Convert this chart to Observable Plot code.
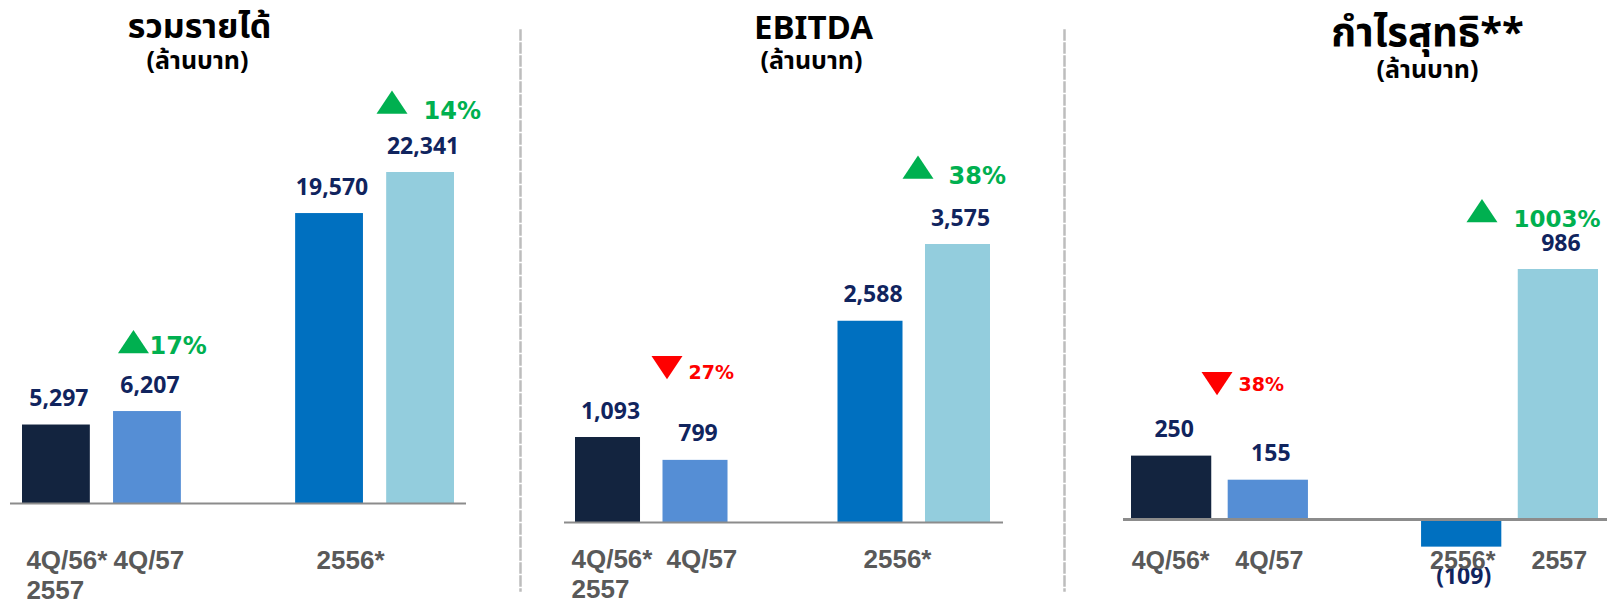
<!DOCTYPE html>
<html>
<head>
<meta charset="utf-8">
<script src="https://cdn.jsdelivr.net/npm/d3@7"></script>
<script src="https://cdn.jsdelivr.net/npm/@observablehq/plot@0.6"></script>
<style>
  html, body { margin: 0; padding: 0; background: #ffffff; }
  #chart { position: relative; width: 1607px; height: 600px; overflow: hidden; background: #ffffff; }
  #chart svg { position: absolute; top: 0; }
</style>
</head>
<body>
<div id="chart"></div>
<script>
// ---------------- DATA ----------------
const categories = ["4Q/56*", "4Q/57", "2556*", "2557"];
const revenueValues = [5297, 6207, 19570, 22341];
const ebitdaValues = [1093, 799, 2588, 3575];
const netProfitValues = [250, 155, -109, 986];
const panelTitles = ["รวมรายได้", "EBITDA", "กำไรสุทธิ**"];
const unitLabel = "(ล้านบาท)";
const changePairs = [["4Q/56*", "4Q/57"], ["2556*", "2557"]];
const revenueChange = ["17%", "14%"];
const ebitdaChange = ["27%", "38%"];
const netProfitChange = ["38%", "1003%"];

// ---------------- STYLE / LAYOUT ----------------
const barColors = ["#13243f", "#558ed5", "#0070c0", "#93cddd"];
const valueColor = "#10245e";
const upColor = "#00b050";
const downColor = "#ff0000";
const catColor = "#595959";
const GAP = "\u00a0gap";
const numFont = "'Noto Sans', 'DejaVu Sans', sans-serif";
const pctFont = "'DejaVu Sans', 'Noto Sans', sans-serif";
const catFont = "'Liberation Sans', Arial, sans-serif";
const titleFont = "'Noto Sans Thai', 'Noto Sans', 'DejaVu Sans', sans-serif";

const fmt = d3.format(",");
const fmtValue = v => v < 0 ? `(${fmt(-v)})` : fmt(v);

const flatTriangle = {
  draw(ctx, size) {
    const r = Math.sqrt(size / Math.PI);
    const h = r * 0.75;
    ctx.moveTo(0, -h);
    ctx.lineTo(r, h);
    ctx.lineTo(-r, h);
    ctx.closePath();
  }
};

const panels = [
  {
    left: 0, width: 519, values: revenueValues, change: revenueChange, title: panelTitles[0],
    xRange: [22, 454], pad: 0.255, yRange: [503, 172],
    baseL: 10, baseR: 466, baseW: 2, separator: false,
    titleX: 199, titleY: 37, titleSize: 34, subX: 197, subY: 68, subSize: 25,
    wrap: true, catDx: [-30, -34, -13, -30], catDy: 65, catSize: 26,
    triDx: [-14, -28.6], triDy: [-70, -70.5], pctDx: [2, 3], pctDy: [-58, -54], pctSize: [24, 24]
  },
  {
    left: 519, width: 544, values: ebitdaValues, change: ebitdaChange, title: panelTitles[1],
    xRange: [56, 471], pad: 0.257, yRange: [522, 244],
    baseL: 45, baseR: 484, baseW: 2, separator: true,
    titleX: 294, titleY: 38, titleSize: 33, subX: 292, subY: 68, subSize: 25,
    wrap: true, catDx: [-36.5, -29, -7, -36.5], catDy: 45, catSize: 26,
    triDx: [-28.5, -40], triDy: [-70, -77.5], pctDx: [-7, -9.5], pctDy: [-59, -61], pctSize: [19, 24]
  },
  {
    left: 1063, width: 544, values: netProfitValues, change: netProfitChange, title: panelTitles[2],
    xRange: [68, 535], pad: 0.17, yRange: [519, 269],
    baseL: 60, baseR: 544, baseW: 3, separator: true,
    titleX: 364, titleY: 45, titleSize: 40, subX: 364, subY: 77, subSize: 25,
    wrap: false, catDx: [-1, 1, 1, 1], catDy: 49, catSize: 25,
    triDx: [-51.3, -76.4], triDy: [-72.6, -59], pctDx: [-29.8, -44.9], pctDy: [-65.6, -43], pctSize: [19, 23]
  }
];

const chart = document.getElementById("chart");

panels.forEach((p) => {
  const rows = categories.map((c, i) => ({category: c, value: p.values[i]}));
  const valueOf = c => p.values[categories.indexOf(c)];
  const annotations = changePairs.map(([a, b], i) => ({
    from: a, to: b, label: p.change[i],
    up: valueOf(b) >= valueOf(a),
    top: Math.max(valueOf(a), valueOf(b))
  }));
  const marginLeft = 1, marginTop = 30;

  const marks = [];
  if (p.separator) {
    marks.push(Plot.frame({anchor: "left", stroke: "#bdbdbd", strokeWidth: 2.5, strokeDasharray: "9,4"}));
  }
  // titles
  marks.push(Plot.text([p.title], {
    frameAnchor: "top-left", dx: p.titleX - marginLeft, dy: p.titleY - marginTop,
    text: d => d, textAnchor: "middle", lineAnchor: "bottom",
    fontSize: p.titleSize, fontWeight: "bold", fontFamily: titleFont, fill: "#000000"
  }));
  marks.push(Plot.text([unitLabel], {
    frameAnchor: "top-left", dx: p.subX - marginLeft, dy: p.subY - marginTop,
    text: d => d, textAnchor: "middle", lineAnchor: "bottom",
    fontSize: p.subSize, fontWeight: "bold", fontFamily: titleFont, fill: "#000000"
  }));
  // bars
  marks.push(Plot.barY(rows, {x: "category", y: "value", fill: "category"}));
  // baseline
  marks.push(Plot.ruleY([0], {
    stroke: "#8c8c8c", strokeWidth: p.baseW,
    insetLeft: p.baseL - marginLeft, insetRight: p.width - p.baseR
  }));
  // value labels
  marks.push(Plot.text(rows.filter(d => d.value >= 0), {
    x: "category", y: "value", text: d => fmtValue(d.value), dx: 2.5, dy: -19,
    textAnchor: "middle", lineAnchor: "bottom",
    fontSize: 23, fontWeight: "bold", fontFamily: numFont, fill: valueColor
  }));
  marks.push(Plot.text(rows.filter(d => d.value < 0), {
    x: "category", y: "value", text: d => fmtValue(d.value), dx: 2, dy: 36.4,
    textAnchor: "middle", lineAnchor: "bottom",
    fontSize: 23, fontWeight: "bold", fontFamily: numFont, fill: valueColor
  }));
  // category labels
  categories.forEach((c, i) => {
    const wrapped = p.wrap && i === 3;
    marks.push(Plot.text([c], {
      x: () => wrapped ? categories[0] : c, y: () => 0, text: d => d,
      dx: p.catDx[i], dy: p.catDy + (wrapped ? 30 : 0),
      textAnchor: p.wrap ? "start" : "middle", lineAnchor: "bottom",
      fontSize: p.catSize, fontWeight: "bold", fontFamily: catFont, fill: catColor
    }));
  });
  // change annotations
  annotations.forEach((a, i) => {
    marks.push(Plot.dot([a], {
      x: "to", y: "top", symbol: flatTriangle, r: 15.5,
      fill: a.up ? upColor : downColor, stroke: "none",
      rotate: a.up ? 0 : 180, dx: p.triDx[i], dy: p.triDy[i]
    }));
    marks.push(Plot.text([a], {
      x: "to", y: "top", text: "label", dx: p.pctDx[i], dy: p.pctDy[i],
      textAnchor: "start", lineAnchor: "bottom",
      fontSize: p.pctSize[i], fontWeight: "bold", fontFamily: pctFont,
      fill: a.up ? upColor : downColor
    }));
  });

  const svg = Plot.plot({
    width: p.width,
    height: 600,
    marginTop, marginBottom: 10, marginLeft, marginRight: 0,
    x: {type: "band", domain: [categories[0], categories[1], GAP, categories[2], categories[3]],
        range: p.xRange, paddingInner: p.pad, paddingOuter: 0, round: false, axis: null},
    y: {type: "linear", domain: [0, d3.max(p.values)], range: p.yRange, axis: null},
    color: {type: "ordinal", domain: categories, range: barColors},
    style: {background: "transparent", overflow: "visible"},
    marks
  });
  svg.style.left = p.left + "px";
  chart.appendChild(svg);
});
</script>
</body>
</html>
